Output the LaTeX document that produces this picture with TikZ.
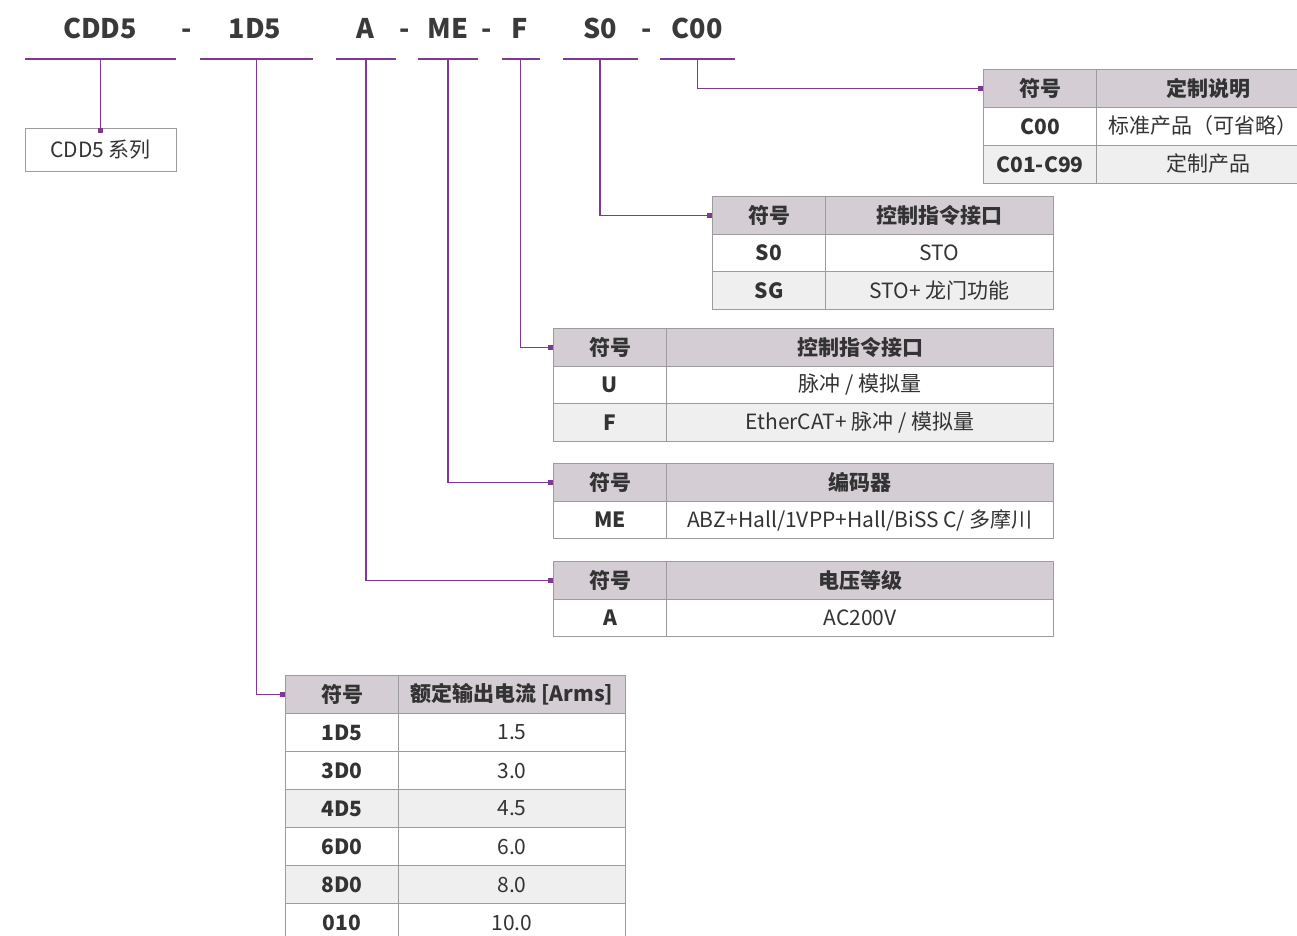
\documentclass[tikz,border=0pt]{standalone}
\usepackage{fontspec}
\setmainfont{Noto Sans CJK SC}
\definecolor{pl}{HTML}{7E3A92}
\definecolor{hd}{HTML}{D5CDD4}
\definecolor{gr}{HTML}{EFEFEF}
\definecolor{bd}{HTML}{9C9C9C}
\definecolor{tx}{HTML}{333333}
\definecolor{tt}{HTML}{3A3A3A}
\newcommand\fb{\fontsize{21}{21}\selectfont\bfseries}
\newcommand\fr{\fontsize{21}{21}\selectfont}
\newcommand\mkcell[8]{\node[cell, fill=#6, minimum width=#4pt, minimum height=#5pt, font=#7] (#1) at (#2,#3) {#8};}
\tikzset{
  cell/.style={draw=bd, line width=1pt, inner sep=0pt, text=tx, anchor=north west},
  lbl/.style={inner sep=0pt, text=tx},
  ttl/.style={text=tt, font=\fontsize{27}{27}\selectfont\bfseries, inner sep=0pt, anchor=base},
  uline/.style={fill=pl, inner sep=0pt, minimum height=2.4pt},
  conn/.style={draw=pl, line width=1.1pt},
  sq/.style={fill=pl, inner sep=0pt, minimum size=5pt, anchor=east},
  sysbox/.style={draw=bd, line width=1pt, text=tx, inner sep=0pt, minimum width=151pt, minimum height=43pt, font=\fr}
}
\begin{document}
\begin{tikzpicture}[x=1pt,y=-1pt]
\useasboundingbox[fill=white] (0,0) rectangle (1297,935);
% title codes
\node[ttl] (c1) at (100,38.5) {CDD5};
\node[ttl] (d1) at (187,38.5) {-};
\node[ttl] (c2) at (255,38.5) {1D5};
\node[ttl] (c3) at (365,38.5) {A};
\node[ttl] (d2) at (405,38.5) {-};
\node[ttl] (c4) at (448,38.5) {ME};
\node[ttl] (d3) at (487,38.5) {-};
\node[ttl] (c5) at (520,38.5) {F};
\node[ttl] (c6) at (600,38.5) {S0};
\node[ttl] (d4) at (647,38.5) {-};
\node[ttl] (c7) at (697,38.5) {C00};
% underlines
\node[uline, minimum width=151pt] (u1) at (100.5,59) {};
\node[uline, minimum width=113pt] (u2) at (256.5,59) {};
\node[uline, minimum width=60pt] (u3) at (366,59) {};
\node[uline, minimum width=60pt] (u4) at (448,59) {};
\node[uline, minimum width=38pt] (u5) at (520.5,59) {};
\node[uline, minimum width=75pt] (u6) at (600,59) {};
\node[uline, minimum width=75pt] (u7) at (697.5,59) {};
% series box
\node[sysbox] (sys) at (100.5,150) {CDD5 系列};
% table C00
\mkcell{t7h1}{983}{69}{113}{38}{hd}{\fb}{符号}
\mkcell{t7h2}{1096}{69}{222}{38}{hd}{\fb}{}
\node[lbl, font=\fb] (t7h2l) at (1208,88) {定制说明};
\mkcell{t7a1}{983}{107}{113}{38}{white}{\fb}{C00}
\mkcell{t7a2}{1096}{107}{222}{38}{white}{\fr}{}
\node[lbl, font=\fr] (t7a2l) at (1203,126) {标准产品（可省略）};
\mkcell{t7b1}{983}{145}{113}{38}{gr}{\fb}{C01-C99}
\mkcell{t7b2}{1096}{145}{222}{38}{gr}{\fr}{}
\node[lbl, font=\fr] (t7b2l) at (1208,164) {定制产品};
% table S0
\mkcell{t6h1}{712}{196}{113}{37.7}{hd}{\fb}{符号}
\mkcell{t6h2}{825}{196}{228}{37.7}{hd}{\fb}{控制指令接口}
\mkcell{t6a1}{712}{233.7}{113}{37.7}{white}{\fb}{S0}
\mkcell{t6a2}{825}{233.7}{228}{37.7}{white}{\fr}{STO}
\mkcell{t6b1}{712}{271.4}{113}{37.7}{gr}{\fb}{SG}
\mkcell{t6b2}{825}{271.4}{228}{37.7}{gr}{\fr}{STO+ 龙门功能}
% table F
\mkcell{t5h1}{553}{328}{113}{37.7}{hd}{\fb}{符号}
\mkcell{t5h2}{666}{328}{387}{37.7}{hd}{\fb}{控制指令接口}
\mkcell{t5a1}{553}{365.7}{113}{37.7}{white}{\fb}{U}
\mkcell{t5a2}{666}{365.7}{387}{37.7}{white}{\fr}{脉冲 / 模拟量}
\mkcell{t5b1}{553}{403.4}{113}{37.7}{gr}{\fb}{F}
\mkcell{t5b2}{666}{403.4}{387}{37.7}{gr}{\fr}{EtherCAT+ 脉冲 / 模拟量}
% table ME
\mkcell{t4h1}{553}{463}{113}{37.7}{hd}{\fb}{符号}
\mkcell{t4h2}{666}{463}{387}{37.7}{hd}{\fb}{编码器}
\mkcell{t4a1}{553}{500.7}{113}{37.7}{white}{\fb}{ME}
\mkcell{t4a2}{666}{500.7}{387}{37.7}{white}{\fr}{ABZ+Hall/1VPP+Hall/BiSS C/ 多摩川}
% table A
\mkcell{t3h1}{553}{561}{113}{37.7}{hd}{\fb}{符号}
\mkcell{t3h2}{666}{561}{387}{37.7}{hd}{\fb}{电压等级}
\mkcell{t3a1}{553}{598.7}{113}{37.7}{white}{\fb}{A}
\mkcell{t3a2}{666}{598.7}{387}{37.7}{white}{\fr}{AC200V}
% table 1D5
\mkcell{t2h1}{285}{675}{113}{38}{hd}{\fb}{符号}
\mkcell{t2h2}{398}{675}{227}{38}{hd}{\fb}{额定输出电流 [Arms]}
\mkcell{t2a1}{285}{713}{113}{38}{white}{\fb}{1D5}
\mkcell{t2a2}{398}{713}{227}{38}{white}{\fr}{1.5}
\mkcell{t2b1}{285}{751}{113}{38}{white}{\fb}{3D0}
\mkcell{t2b2}{398}{751}{227}{38}{white}{\fr}{3.0}
\mkcell{t2c1}{285}{789}{113}{38}{gr}{\fb}{4D5}
\mkcell{t2c2}{398}{789}{227}{38}{gr}{\fr}{4.5}
\mkcell{t2d1}{285}{827}{113}{38}{white}{\fb}{6D0}
\mkcell{t2d2}{398}{827}{227}{38}{white}{\fr}{6.0}
\mkcell{t2e1}{285}{865}{113}{38}{gr}{\fb}{8D0}
\mkcell{t2e2}{398}{865}{227}{38}{gr}{\fr}{8.0}
\mkcell{t2f1}{285}{903}{113}{38}{white}{\fb}{010}
\mkcell{t2f2}{398}{903}{227}{38}{white}{\fr}{10.0}
% connectors
\draw[conn] (u1.south) -- (sys.north);
\node[sq, anchor=north] (s1) at (sys.north) {};
\draw[conn] (u2.south) |- (t2h1.west);
\node[sq] (s2) at (t2h1.west) {};
\draw[conn] (u3.south) |- (t3h1.west);
\node[sq] (s3) at (t3h1.west) {};
\draw[conn] (u4.south) |- (t4h1.west);
\node[sq] (s4) at (t4h1.west) {};
\draw[conn] (u5.south) |- (t5h1.west);
\node[sq] (s5) at (t5h1.west) {};
\draw[conn] (u6.south) |- (t6h1.west);
\node[sq] (s6) at (t6h1.west) {};
\draw[conn] (u7.south) |- (t7h1.west);
\node[sq] (s7) at (t7h1.west) {};
\end{tikzpicture}
\end{document}
